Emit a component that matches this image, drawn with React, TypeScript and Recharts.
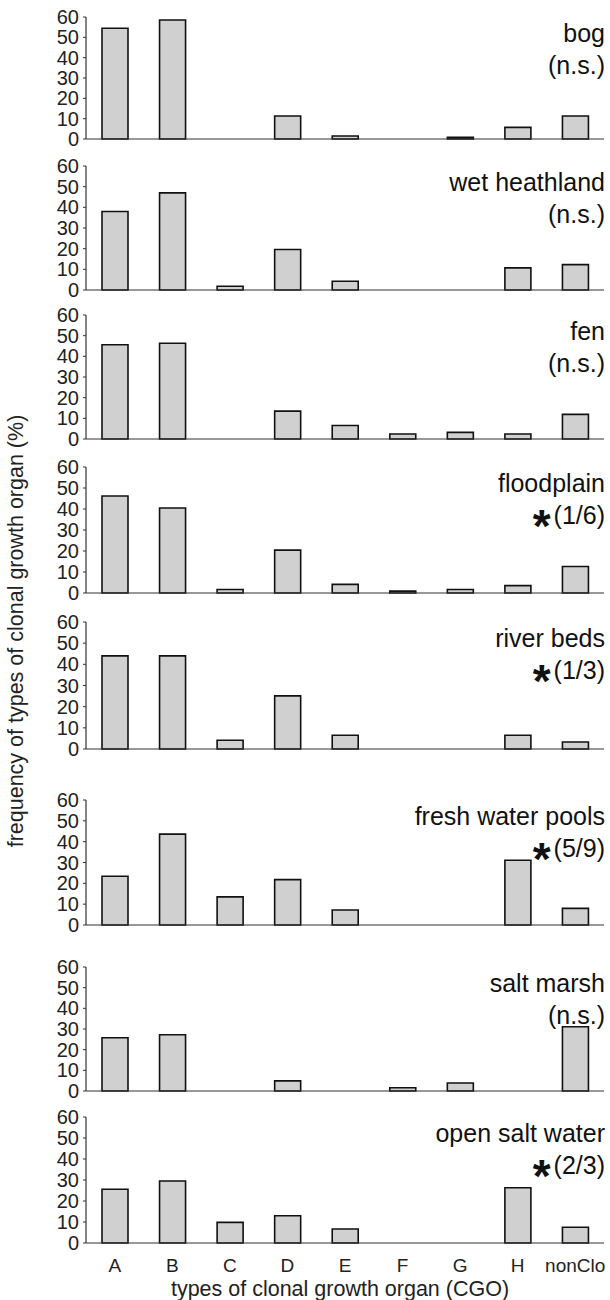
import React from 'react';
import { BarChart, Bar, XAxis, YAxis } from 'recharts';

// types of clonal growth organ
const categories = ['A', 'B', 'C', 'D', 'E', 'F', 'G', 'H', 'nonClo'];
const yTicks = [0, 10, 20, 30, 40, 50, 60];
const boundaryTicks = [1, 2, 3, 4, 5, 6, 7, 8, 9];

// frequency (%) per habitat
const bog = [54.5, 58.5, 0, 11.3, 1.5, 0, 0.8, 5.7, 11.3];
const wetHeathland = [38, 47, 1.8, 19.6, 4.2, 0, 0, 10.7, 12.3];
const fen = [45.6, 46.3, 0, 13.5, 6.5, 2.4, 3.2, 2.4, 11.9];
const floodplain = [46.2, 40.5, 1.7, 20.4, 4.1, 0.9, 1.7, 3.5, 12.6];
const riverBeds = [44, 44, 4.1, 25.1, 6.5, 0, 0, 6.5, 3.3];
const freshWaterPools = [23.4, 43.6, 13.5, 21.8, 7.2, 0, 0, 31.1, 8.0];
const saltMarsh = [25.8, 27.2, 0, 4.9, 0, 1.6, 3.9, 0, 31.1];
const openSaltWater = [25.6, 29.5, 9.8, 13, 6.7, 0, 0, 26.3, 7.5];

const habitats = ['bog', 'wet heathland', 'fen', 'floodplain', 'river beds', 'fresh water pools', 'salt marsh', 'open salt water'];
const significance = ['(n.s.)', '(n.s.)', '(n.s.)', '(1/6)', '(1/3)', '(5/9)', '(n.s.)', '(2/3)'];
const starred = [false, false, false, true, true, true, false, true];
const series = [bog, wetHeathland, fen, floodplain, riverBeds, freshWaterPools, saltMarsh, openSaltWater];

// layout: y of the 60 line and of the 0 line for each panel
const panelTop = [17, 166, 315, 467, 622, 800, 967, 1117];
const panelBottom = [139, 290, 439, 593, 749, 925, 1091, 1243];

const FONT = '"Liberation Sans", Arial, sans-serif';
const AXIS = '#333';

function Panel({ values, index }: { values: number[]; index: number }) {
    const last = index === series.length - 1;
    const data = categories.map((c, i) => ({ cgo: c, idx: i, v: values[i] }));
    const mt = 14;
    const plotH = panelBottom[index] - panelTop[index];
    const axisH = last ? 40 : 0;
    const mb = last ? 0 : 14;
    const h = mt + plotH + 1 + axisH + mb;
    return (
        <div style={{ position: 'absolute', left: 0, top: panelTop[index] - mt, width: 610, height: h }}>
            <BarChart width={610} height={h} data={data} margin={{ top: mt, right: 6, bottom: mb, left: 0 }} barSize={26}>
                <XAxis
                    xAxisId="bounds"
                    type="number"
                    dataKey="idx"
                    domain={[0, 9]}
                    allowDataOverflow
                    ticks={boundaryTicks}
                    height={1}
                    tick={false}
                    tickSize={3}
                    tickLine={{ stroke: AXIS }}
                    axisLine={{ stroke: AXIS, strokeWidth: 1.2 }}
                />
                <XAxis
                    xAxisId="cat"
                    dataKey="cgo"
                    hide={!last}
                    height={axisH || 1}
                    axisLine={false}
                    tickLine={false}
                    tickMargin={9}
                    interval={0}
                    tick={{ fontSize: 19, fill: '#222', fontFamily: FONT }}
                />
                <YAxis
                    width={86}
                    domain={[0, 60]}
                    ticks={yTicks}
                    interval={0}
                    tickSize={3}
                    tickMargin={4}
                    tickLine={{ stroke: AXIS }}
                    axisLine={{ stroke: AXIS, strokeWidth: 1.2 }}
                    tick={{ fontSize: 20, fill: '#222', fontFamily: FONT }}
                />
                <Bar
                    xAxisId="cat"
                    dataKey="v"
                    fill="#d0d0d0"
                    stroke="#111"
                    strokeWidth={1.6}
                    isAnimationActive={false}
                />
            </BarChart>
        </div>
    );
}

export default function App() {
    return (
        <div style={{ position: 'absolute', left: 0, top: 0, width: 610, height: 1300, background: '#fff', fontFamily: FONT }}>
            {series.map((values, i) => (
                <Panel key={habitats[i]} values={values} index={i} />
            ))}
            <svg width={610} height={1300} style={{ position: 'absolute', left: 0, top: 0, pointerEvents: 'none' }}>
                {habitats.map((name, i) => (
                    <g key={name} fontFamily={FONT} fill="#111" textAnchor="end">
                        <text x={605} y={panelTop[i] + 16} fontSize={25} dominantBaseline="central">
                            {name}
                        </text>
                        <text x={605} y={panelTop[i] + 48} fontSize={25} dominantBaseline="central">
                            {starred[i] && (
                                <tspan fontSize={46} fontWeight="bold" dy={11}>*</tspan>
                            )}
                            <tspan dy={starred[i] ? -11 : 0} dx={starred[i] ? 3 : 0}>{significance[i]}</tspan>
                        </text>
                    </g>
                ))}
                <text
                    x={0}
                    y={0}
                    transform="translate(16 631) rotate(-90)"
                    textAnchor="middle"
                    dominantBaseline="central"
                    fontSize={21.5}
                    fontFamily={FONT}
                    fill="#222"
                >
                    frequency of types of clonal growth organ (%)
                </text>
                <text x={340} y={1289} textAnchor="middle" dominantBaseline="central" fontSize={21.5} fontFamily={FONT} fill="#222">
                    types of clonal growth organ (CGO)
                </text>
            </svg>
        </div>
    );
}
